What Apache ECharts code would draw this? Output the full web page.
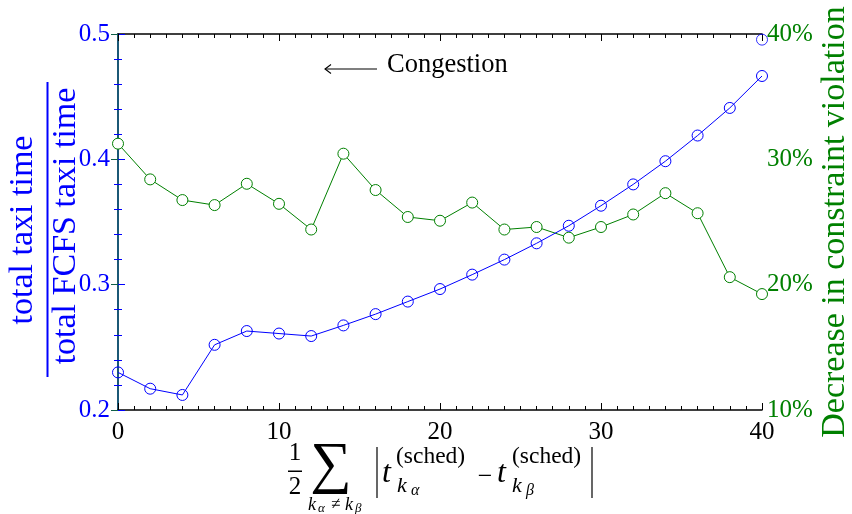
<!DOCTYPE html>
<html>
<head>
<meta charset="utf-8">
<script src="https://cdn.jsdelivr.net/npm/echarts@6/dist/echarts.min.js"></script>
<style>
  html, body { margin: 0; padding: 0; background: #fff; }
  #chart { width: 852px; height: 514px; }
</style>
</head>
<body>
<div id="chart"></div>
<script>
// Half-sum of pairwise scheduled-time differences (x axis)
const schedSpread = [0, 2, 4, 6, 8, 10, 12, 14, 16, 18, 20, 22, 24, 26, 28, 30, 32, 34, 36, 38, 40];
// total taxi time / total FCFS taxi time (left axis)
const taxiTimeRatio = [0.230, 0.217, 0.212, 0.252, 0.263, 0.261, 0.259, 0.2675, 0.2765, 0.2865, 0.2965,
  0.308, 0.320, 0.333, 0.347, 0.363, 0.380, 0.3985, 0.419, 0.441, 0.4665];
// lone marker drawn at the right edge of the ratio series
const ratioEdgePoint = [40, 0.4955];
// Decrease in constraint violation, percent (right axis)
const violationDecrease = [31.25, 28.4, 26.75, 26.35, 28.05, 26.45, 24.4, 30.45, 27.55, 25.4, 25.1,
  26.55, 24.4, 24.6, 23.75, 24.6, 25.6, 27.3, 25.7, 20.6, 19.25];

const BLUE = '#0000ff';
const GREEN = '#008000';
const SERIF = '"Liberation Serif", "Times New Roman", "DejaVu Serif", serif';
const font = (size, italic) => (italic ? 'italic ' : '') + size + 'px ' + SERIF;

const chart = echarts.init(document.getElementById('chart'), null, { renderer: 'canvas' });

const tickFont = { fontFamily: SERIF, fontSize: 25 };

const xAxisBase = {
  type: 'value', min: 0, max: 40, interval: 10,
  axisLine: { lineStyle: { color: '#000', width: 1.5 } },
  axisTick: { inside: true, length: 7, lineStyle: { color: '#000' } },
  minorTick: { show: true, splitNumber: 10, length: 4, lineStyle: { color: '#000' } },
  splitLine: { show: false }
};

// small helper for pieces of the x-axis formula
const t = (text, x, y, size, italic, align) => ({
  type: 'text', x, y,
  style: { text, fill: '#000', font: font(size, italic), textAlign: align || 'left', textVerticalAlign: 'middle' }
});
const bar = (x, y1, y2) => ({ type: 'line', shape: { x1: x, y1, x2: x, y2 }, style: { stroke: '#000', lineWidth: 1.2 } });

const option = {
  animation: false,
  backgroundColor: '#fff',
  grid: { left: 118, right: 90, top: 34, bottom: 104, containLabel: false },
  xAxis: [
    Object.assign({}, xAxisBase, {
      position: 'bottom',
      axisLabel: { color: '#000', margin: 10, ...tickFont }
    }),
    Object.assign({}, xAxisBase, {
      position: 'top',
      axisLabel: { show: false }
    })
  ],
  yAxis: [
    {
      type: 'value', min: 0.2, max: 0.5, interval: 0.1, position: 'left',
      axisLine: { show: true, lineStyle: { color: BLUE, width: 1.5 } },
      axisTick: { show: true, inside: true, length: 7, lineStyle: { color: BLUE } },
      minorTick: { show: true, splitNumber: 5, length: 4, lineStyle: { color: BLUE } },
      splitLine: { show: false },
      axisLabel: { color: BLUE, margin: 8, formatter: v => v.toFixed(1), ...tickFont }
    },
    {
      type: 'value', min: 10, max: 40, interval: 10, position: 'right',
      axisLine: { show: true, lineStyle: { color: '#0f6048', width: 1.5 } },
      axisTick: { show: true, inside: true, length: 7, lineStyle: { color: '#0f6048' } },
      minorTick: { show: true, splitNumber: 5, length: 4, lineStyle: { color: BLUE } },
      splitLine: { show: false },
      axisLabel: { color: GREEN, margin: 5, formatter: v => v + '%', ...tickFont }
    }
  ],
  series: [
    {
      type: 'line', xAxisIndex: 0, yAxisIndex: 1, clip: false,
      data: schedSpread.map((x, i) => [x, violationDecrease[i]]),
      lineStyle: { color: GREEN, width: 1 },
      itemStyle: { color: '#fff', borderColor: GREEN, borderWidth: 1 },
      symbol: 'circle', symbolSize: 11, showAllSymbol: true
    },
    {
      type: 'line', xAxisIndex: 0, yAxisIndex: 0, clip: false,
      data: schedSpread.map((x, i) => [x, taxiTimeRatio[i]]),
      lineStyle: { color: BLUE, width: 1 },
      itemStyle: { color: 'rgba(255,255,255,0)', borderColor: BLUE, borderWidth: 1 },
      symbol: 'circle', symbolSize: 11, showAllSymbol: true
    },
    {
      type: 'scatter', xAxisIndex: 0, yAxisIndex: 0, clip: false,
      data: [ratioEdgePoint],
      itemStyle: { color: 'rgba(255,255,255,0)', borderColor: BLUE, borderWidth: 1 },
      symbol: 'circle', symbolSize: 11
    }
  ],
  graphic: [
    // left axis title: fraction total / FCFS taxi time
    {
      type: 'text', x: 23.5, y: 230, rotation: Math.PI / 2,
      style: { text: 'total taxi time', fill: BLUE, font: font(34), textAlign: 'center', textVerticalAlign: 'middle' }
    },
    { type: 'rect', shape: { x: 46.5, y: 82, width: 2, height: 295 }, style: { fill: BLUE } },
    {
      type: 'text', x: 66.5, y: 226, rotation: Math.PI / 2,
      style: { text: 'total FCFS taxi time', fill: BLUE, font: font(34), textAlign: 'center', textVerticalAlign: 'middle' }
    },
    // right axis title
    {
      type: 'text', x: 835.5, y: 222, rotation: Math.PI / 2,
      style: { text: 'Decrease in constraint violation', fill: GREEN, font: font(34), textAlign: 'center', textVerticalAlign: 'middle' }
    },
    // congestion annotation
    { type: 'line', shape: { x1: 325, y1: 69, x2: 377, y2: 69 }, style: { stroke: '#000', lineWidth: 1.1 } },
    { type: 'polyline', shape: { points: [[331, 64.5], [325, 69], [331, 73.5]] }, style: { stroke: '#000', lineWidth: 1.1, fill: null } },
    t('Congestion', 387, 65, 26.5, false),
    // x axis title: (1/2) sum over k_alpha != k_beta of |t^(sched)_k_alpha - t^(sched)_k_beta|
    t('1', 295, 453.5, 25, false, 'center'),
    { type: 'rect', shape: { x: 288, y: 470.5, width: 14, height: 1.5 }, style: { fill: '#000' } },
    t('2', 295, 487.5, 25, false, 'center'),
    t('∑', 331, 467, 58, false, 'center'),
    t('k', 308, 505, 18, true),
    t('α', 318, 509, 13, true),
    t('≠', 331, 505, 17, false),
    t('k', 345, 505, 18, true),
    t('β', 355, 509, 13, true),
    bar(377, 447, 498),
    t('t', 382, 474, 32, true),
    t('(sched)', 396, 457, 23.5, false),
    t('k', 397, 486, 22, true),
    t('α', 411, 491, 16, true),
    t('−', 485, 477, 26, false, 'center'),
    t('t', 497, 474, 32, true),
    t('(sched)', 512, 457, 23.5, false),
    t('k', 512, 486, 22, true),
    t('β', 526, 491, 16, true),
    bar(592, 447, 498)
  ]
};

chart.setOption(option);
</script>
</body>
</html>
